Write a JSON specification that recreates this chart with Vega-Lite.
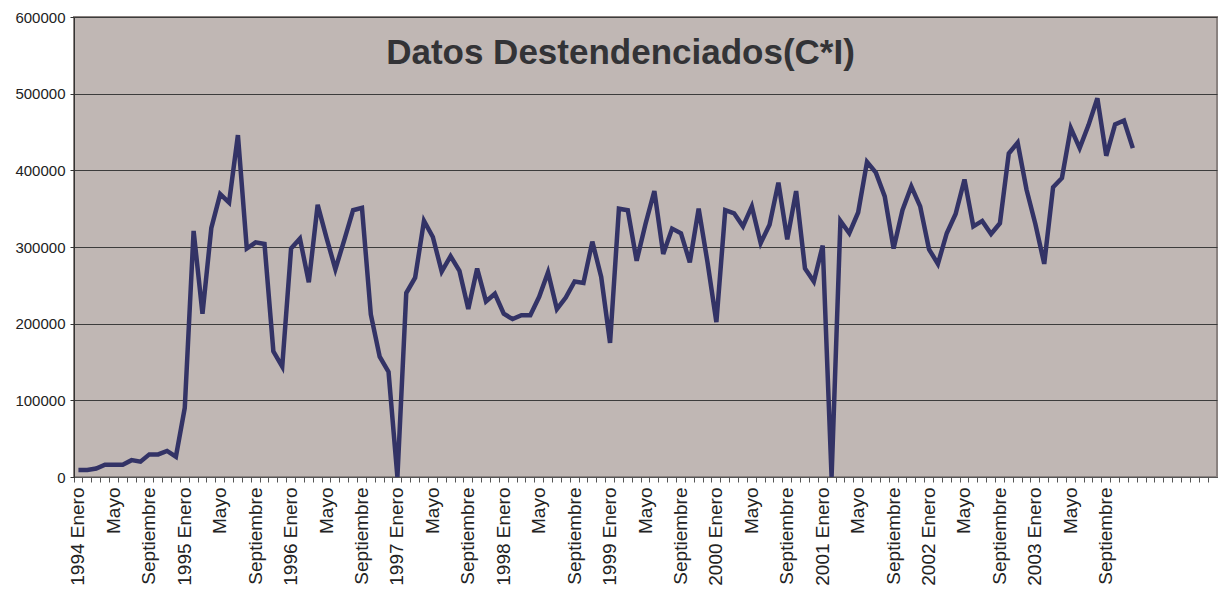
{
  "$schema": "https://vega.github.io/schema/vega-lite/v6.json",
  "width": 1143,
  "height": 460,
  "autosize": {"type": "none"},
  "padding": {"left": 74, "top": 17, "right": 15, "bottom": 123},
  "background": "white",
  "title": {
    "text": "Datos Destendenciados(C*I)",
    "font": "Liberation Sans",
    "fontSize": 35,
    "fontWeight": "bold",
    "color": "#333336",
    "anchor": "middle",
    "frame": "group",
    "baseline": "alphabetic",
    "offset": -54,
    "dy": 35,
    "dx": -25
  },
  "config": {
    "view": {"fill": "#c0b7b4", "stroke": "#8a8280", "strokeWidth": 2}
  },
  "data": {
    "values": [
      {"mes": "1994-01", "valor": 9100}, {"mes": "1994-02", "valor": 9100}, {"mes": "1994-03", "valor": 11000}, {"mes": "1994-04", "valor": 16000},
      {"mes": "1994-05", "valor": 16000}, {"mes": "1994-06", "valor": 16000}, {"mes": "1994-07", "valor": 22000}, {"mes": "1994-08", "valor": 20000},
      {"mes": "1994-09", "valor": 29500}, {"mes": "1994-10", "valor": 29500}, {"mes": "1994-11", "valor": 34000}, {"mes": "1994-12", "valor": 26500},
      {"mes": "1995-01", "valor": 90000}, {"mes": "1995-02", "valor": 321000}, {"mes": "1995-03", "valor": 213000}, {"mes": "1995-04", "valor": 325000},
      {"mes": "1995-05", "valor": 369000}, {"mes": "1995-06", "valor": 358000}, {"mes": "1995-07", "valor": 446000}, {"mes": "1995-08", "valor": 298000},
      {"mes": "1995-09", "valor": 306000}, {"mes": "1995-10", "valor": 304000}, {"mes": "1995-11", "valor": 164000}, {"mes": "1995-12", "valor": 144000},
      {"mes": "1996-01", "valor": 298000}, {"mes": "1996-02", "valor": 311000}, {"mes": "1996-03", "valor": 254000}, {"mes": "1996-04", "valor": 355000},
      {"mes": "1996-05", "valor": 312000}, {"mes": "1996-06", "valor": 271000}, {"mes": "1996-07", "valor": 309000}, {"mes": "1996-08", "valor": 348000},
      {"mes": "1996-09", "valor": 351000}, {"mes": "1996-10", "valor": 212000}, {"mes": "1996-11", "valor": 157000}, {"mes": "1996-12", "valor": 137000},
      {"mes": "1997-01", "valor": 0}, {"mes": "1997-02", "valor": 240000}, {"mes": "1997-03", "valor": 260000}, {"mes": "1997-04", "valor": 334000},
      {"mes": "1997-05", "valor": 313000}, {"mes": "1997-06", "valor": 268000}, {"mes": "1997-07", "valor": 288000}, {"mes": "1997-08", "valor": 269000},
      {"mes": "1997-09", "valor": 219000}, {"mes": "1997-10", "valor": 272000}, {"mes": "1997-11", "valor": 229000}, {"mes": "1997-12", "valor": 239000},
      {"mes": "1998-01", "valor": 213000}, {"mes": "1998-02", "valor": 206000}, {"mes": "1998-03", "valor": 211000}, {"mes": "1998-04", "valor": 211000},
      {"mes": "1998-05", "valor": 235000}, {"mes": "1998-06", "valor": 267000}, {"mes": "1998-07", "valor": 219000}, {"mes": "1998-08", "valor": 234000},
      {"mes": "1998-09", "valor": 255000}, {"mes": "1998-10", "valor": 253000}, {"mes": "1998-11", "valor": 307000}, {"mes": "1998-12", "valor": 261000},
      {"mes": "1999-01", "valor": 175000}, {"mes": "1999-02", "valor": 350000}, {"mes": "1999-03", "valor": 348000}, {"mes": "1999-04", "valor": 282000},
      {"mes": "1999-05", "valor": 330000}, {"mes": "1999-06", "valor": 373000}, {"mes": "1999-07", "valor": 291000}, {"mes": "1999-08", "valor": 324000},
      {"mes": "1999-09", "valor": 318000}, {"mes": "1999-10", "valor": 280000}, {"mes": "1999-11", "valor": 350000}, {"mes": "1999-12", "valor": 280000},
      {"mes": "2000-01", "valor": 202000}, {"mes": "2000-02", "valor": 348000}, {"mes": "2000-03", "valor": 344000}, {"mes": "2000-04", "valor": 327000},
      {"mes": "2000-05", "valor": 353000}, {"mes": "2000-06", "valor": 305000}, {"mes": "2000-07", "valor": 329000}, {"mes": "2000-08", "valor": 384000},
      {"mes": "2000-09", "valor": 310000}, {"mes": "2000-10", "valor": 373000}, {"mes": "2000-11", "valor": 272000}, {"mes": "2000-12", "valor": 255000},
      {"mes": "2001-01", "valor": 302000}, {"mes": "2001-02", "valor": 0}, {"mes": "2001-03", "valor": 334000}, {"mes": "2001-04", "valor": 318000},
      {"mes": "2001-05", "valor": 345000}, {"mes": "2001-06", "valor": 411000}, {"mes": "2001-07", "valor": 397000}, {"mes": "2001-08", "valor": 366000},
      {"mes": "2001-09", "valor": 298000}, {"mes": "2001-10", "valor": 348000}, {"mes": "2001-11", "valor": 379000}, {"mes": "2001-12", "valor": 353000},
      {"mes": "2002-01", "valor": 297000}, {"mes": "2002-02", "valor": 278000}, {"mes": "2002-03", "valor": 318000}, {"mes": "2002-04", "valor": 343000},
      {"mes": "2002-05", "valor": 388000}, {"mes": "2002-06", "valor": 327000}, {"mes": "2002-07", "valor": 334000}, {"mes": "2002-08", "valor": 317000},
      {"mes": "2002-09", "valor": 331000}, {"mes": "2002-10", "valor": 422000}, {"mes": "2002-11", "valor": 436000}, {"mes": "2002-12", "valor": 375000},
      {"mes": "2003-01", "valor": 330000}, {"mes": "2003-02", "valor": 278000}, {"mes": "2003-03", "valor": 378000}, {"mes": "2003-04", "valor": 390000},
      {"mes": "2003-05", "valor": 455000}, {"mes": "2003-06", "valor": 429000}, {"mes": "2003-07", "valor": 459000}, {"mes": "2003-08", "valor": 494000},
      {"mes": "2003-09", "valor": 419000}, {"mes": "2003-10", "valor": 460000}, {"mes": "2003-11", "valor": 465000}, {"mes": "2003-12", "valor": 429000}
    ]
  },
  "mark": {"type": "line", "color": "#333366", "strokeWidth": 4.5},
  "encoding": {
    "x": {
      "field": "mes",
      "type": "ordinal",
      "bandPosition": 0.5,
      "scale": {
        "type": "band",
        "paddingInner": 0,
        "paddingOuter": 0,
        "domain": [
          "1994-01","1994-02","1994-03","1994-04","1994-05","1994-06","1994-07","1994-08","1994-09","1994-10","1994-11","1994-12",
          "1995-01","1995-02","1995-03","1995-04","1995-05","1995-06","1995-07","1995-08","1995-09","1995-10","1995-11","1995-12",
          "1996-01","1996-02","1996-03","1996-04","1996-05","1996-06","1996-07","1996-08","1996-09","1996-10","1996-11","1996-12",
          "1997-01","1997-02","1997-03","1997-04","1997-05","1997-06","1997-07","1997-08","1997-09","1997-10","1997-11","1997-12",
          "1998-01","1998-02","1998-03","1998-04","1998-05","1998-06","1998-07","1998-08","1998-09","1998-10","1998-11","1998-12",
          "1999-01","1999-02","1999-03","1999-04","1999-05","1999-06","1999-07","1999-08","1999-09","1999-10","1999-11","1999-12",
          "2000-01","2000-02","2000-03","2000-04","2000-05","2000-06","2000-07","2000-08","2000-09","2000-10","2000-11","2000-12",
          "2001-01","2001-02","2001-03","2001-04","2001-05","2001-06","2001-07","2001-08","2001-09","2001-10","2001-11","2001-12",
          "2002-01","2002-02","2002-03","2002-04","2002-05","2002-06","2002-07","2002-08","2002-09","2002-10","2002-11","2002-12",
          "2003-01","2003-02","2003-03","2003-04","2003-05","2003-06","2003-07","2003-08","2003-09","2003-10","2003-11","2003-12",
          "2004-01","2004-02","2004-03","2004-04","2004-05","2004-06","2004-07","2004-08","2004-09"
        ]
      },
      "axis": {
        "title": null,
        "bandPosition": 0,
        "grid": false,
        "labelAngle": -90,
        "labelAlign": "right",
        "labelBaseline": "middle",
        "labelFont": "Liberation Sans",
        "labelFontSize": 19,
        "labelColor": "#222222",
        "labelPadding": 5,
        "labelOverlap": false,
        "labelBound": false,
        "tickSize": 5,
        "tickColor": "#555555",
        "domainColor": "#555555",
        "labelExpr": "(datum.value < '2004' && substring(datum.value, 5, 7) == '01') ? substring(datum.value, 0, 4) + ' Enero' : (datum.value < '2004' && substring(datum.value, 5, 7) == '05') ? 'Mayo' : (datum.value < '2004' && substring(datum.value, 5, 7) == '09') ? 'Septiembre' : ''"
      }
    },
    "y": {
      "field": "valor",
      "type": "quantitative",
      "scale": {"domain": [0, 600000], "nice": false},
      "axis": {
        "title": null,
        "values": [0, 100000, 200000, 300000, 400000, 500000, 600000],
        "format": "d",
        "labelFont": "Liberation Sans",
        "labelFontSize": 15,
        "labelColor": "#222222",
        "labelPadding": 5,
        "labelFlush": false,
        "tickSize": 4,
        "tickColor": "#333333",
        "domainColor": "#333333",
        "grid": true,
        "gridColor": "#3c3c3c",
        "gridWidth": 1
      }
    }
  }
}
